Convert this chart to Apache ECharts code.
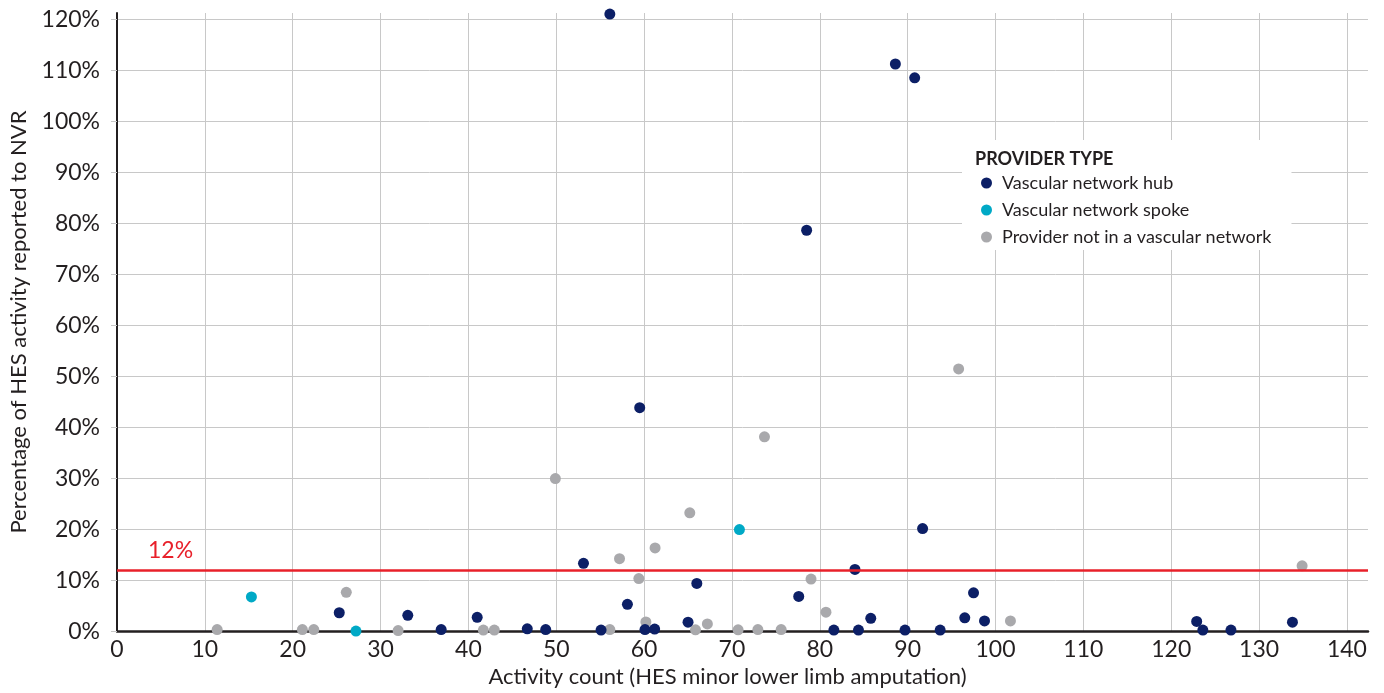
<!DOCTYPE html>
<html>
<head>
<meta charset="utf-8">
<script src="https://cdn.jsdelivr.net/npm/echarts@6/dist/echarts.min.js"></script>
<style>
html,body{margin:0;padding:0;background:#fff;}
#chart{width:1384px;height:693px;}
</style>
</head>
<body>
<div id="chart"></div>
<script>
// Data: [activity count, % of HES activity reported to NVR]
const hubData = [
  [56.1,121.0],[88.6,111.2],[90.8,108.5],[78.5,78.6],[59.5,43.8],[91.7,20.1],
  [53.1,13.3],[84.0,12.1],[66.0,9.35],[58.1,5.26],[77.6,6.8],[41.0,2.7],
  [25.3,3.6],[33.1,3.1],[36.9,0.3],[46.7,0.45],[48.8,0.3],[55.1,0.2],
  [60.1,0.3],[61.2,0.4],[65.0,1.75],[81.6,0.2],[84.4,0.2],[85.8,2.5],
  [89.7,0.2],[93.7,0.2],[96.5,2.6],[97.5,7.5],[98.75,2.0],[122.9,1.9],
  [123.6,0.2],[126.8,0.2],[133.8,1.75]
];
const spokeData = [
  [15.3,6.7],[27.2,0.0],[70.85,19.9]
];
const otherData = [
  [11.4,0.3],[21.1,0.3],[22.4,0.3],[26.1,7.6],[32.0,0.1],[41.7,0.2],
  [42.95,0.2],[56.1,0.3],[57.2,14.2],[59.4,10.3],[60.2,1.8],[61.25,16.3],
  [65.2,23.2],[65.85,0.25],[67.2,1.4],[70.7,0.25],[72.95,0.3],[75.6,0.3],
  [79.0,10.2],[80.7,3.7],[101.7,2.0],[134.9,12.8],[49.9,29.9],[73.7,38.1],
  [95.8,51.4]
];
const seriesNames = ['Vascular network hub','Vascular network spoke','Provider not in a vascular network'];
const seriesColors = ['#0c1f66','#00a9c6','#a9a9ac'];
const thresholdValue = 12;
const xTitle = 'Activity count (HES minor lower limb amputation)';
const yTitle = 'Percentage of HES activity reported to NVR';
const legendTitle = 'PROVIDER TYPE';

const FONT = 'Lato';
const chart = echarts.init(document.getElementById('chart'), null, {renderer:'canvas'});
const dataSets = [hubData, spokeData, otherData];

chart.setOption({
  animation: false,
  backgroundColor: '#fff',
  textStyle: {fontFamily: FONT},
  title: {
    text: legendTitle, left: 975, top: 150, padding: 0,
    textStyle: {fontFamily: FONT, fontSize: 18, fontWeight: 'bold', color: '#231f20'}
  },
  legend: {
    orient: 'vertical', left: 962, top: 140,
    padding: [34, 20, 4, 19],
    backgroundColor: '#fff',
    itemWidth: 11, itemHeight: 11, itemGap: 9,
    icon: 'circle',
    data: seriesNames,
    textStyle: {fontFamily: FONT, fontSize: 18, color: '#231f20', lineHeight: 18, padding: [0,0,0,5]}
  },
  grid: {left: 117, right: 16, top: 13, bottom: 58, containLabel: false},
  xAxis: {
    type: 'value', min: 0, max: 142.4, interval: 10,
    name: xTitle, nameLocation: 'middle', nameGap: 33,
    nameTextStyle: {fontFamily: FONT, fontSize: 22, color: '#231f20', padding: [0, 30, 0, 0]},
    axisLine: {show: true, onZero: false, lineStyle: {color: '#231f20', width: 2.5}},
    axisTick: {show: false},
    axisLabel: {
      fontFamily: FONT, fontSize: 23, color: '#231f20', margin: 7,
      showMaxLabel: false,
      formatter: v => (Math.abs(v % 10) < 1e-6 ? String(v) : '')
    },
    splitLine: {show: true, showMaxLine: false, lineStyle: {color: '#c8c8c8', width: 1}}
  },
  yAxis: {
    type: 'value', min: 0, max: 121.2, interval: 10,
    name: yTitle, nameLocation: 'middle', nameGap: 87, nameRotate: 90,
    nameTextStyle: {fontFamily: FONT, fontSize: 22, color: '#231f20'},
    axisLine: {show: true, onZero: false, lineStyle: {color: '#231f20', width: 2}},
    axisTick: {show: true, length: 6, lineStyle: {color: '#c8c8c8'}},
    axisLabel: {
      fontFamily: FONT, fontSize: 23, color: '#231f20', margin: 17,
      showMaxLabel: false,
      formatter: v => (Math.abs(v % 10) < 1e-6 ? v + '%' : '')
    },
    splitLine: {show: true, showMaxLine: false, lineStyle: {color: '#c8c8c8', width: 1}}
  },
  series: dataSets.map((d, i) => {
    const s = {
      name: seriesNames[i], type: 'scatter', data: d,
      symbol: 'circle', symbolSize: 11, clip: false,
      itemStyle: {color: seriesColors[i], opacity: 1},
      z: i === 0 ? 4 : 3
    };
    if (i === 0) {
      s.markLine = {
        silent: true, symbol: ['none','none'], animation: false,
        lineStyle: {color: '#e8202a', width: 2.5, type: 'solid'},
        label: {
          show: true, position: 'insideStartTop', formatter: thresholdValue + '%',
          color: '#e8202a', fontFamily: FONT, fontSize: 23, distance: [31, 8]
        },
        data: [{yAxis: thresholdValue}]
      };
    }
    return s;
  })
});
</script>
</body>
</html>
